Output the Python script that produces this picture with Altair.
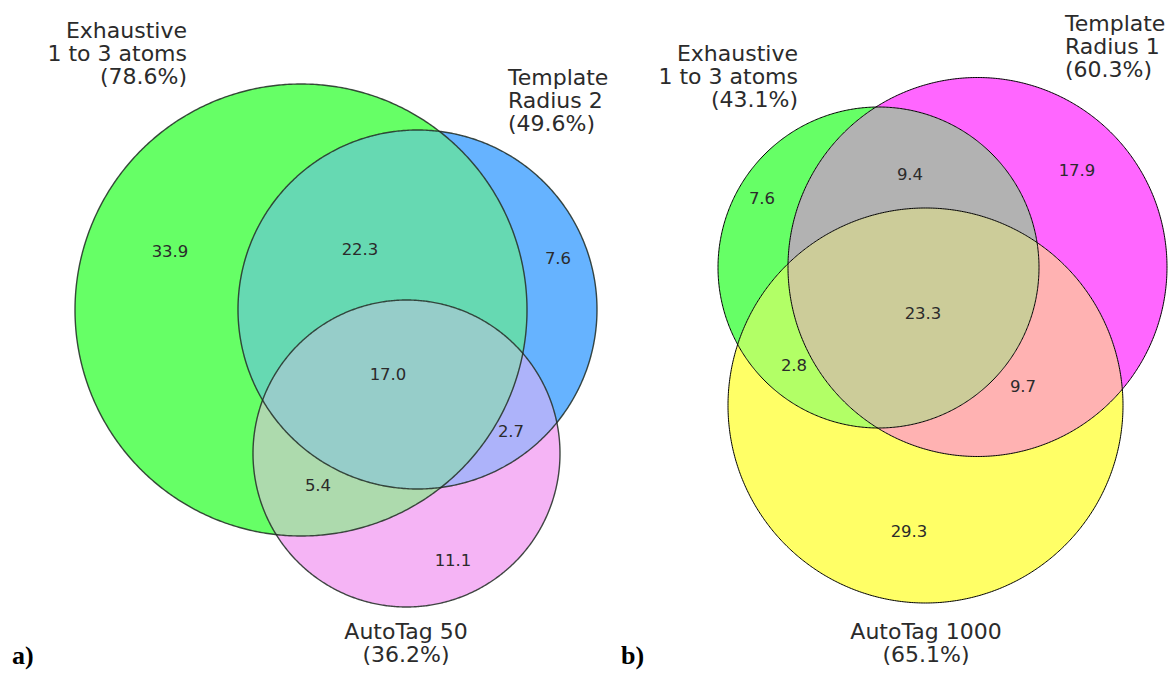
import numpy as np
import pandas as pd
import altair as alt

# ---- data ----
# circle geometry: centre x, centre y, radius (picture units)
panel_a_names = ["Exhaustive\n1 to 3 atoms\n(78.6%)", "Template\nRadius 2\n(49.6%)", "AutoTag 50\n(36.2%)"]
panel_a_circles = [(301, 310, 226), (417.5, 309.5, 179.5), (406.5, 453.5, 153.5)]
panel_a_base = [(0, 255, 0), (0, 128, 255), (238, 130, 238)]
panel_b_names = ["Exhaustive\n1 to 3 atoms\n(43.1%)", "Template\nRadius 1\n(60.3%)", "AutoTag 1000\n(65.1%)"]
panel_b_circles = [(878.5, 267.5, 160.5), (977.5, 267, 189.5), (925.5, 405.5, 197.5)]
panel_b_base = [(0, 255, 0), (255, 0, 255), (255, 255, 0)]

region_keys = ["100", "010", "001", "110", "101", "011", "111"]
panel_a_values = ["33.9", "7.6", "11.1", "22.3", "5.4", "2.7", "17.0"]
panel_a_value_x = [170, 558, 453, 360, 318, 511, 388]
panel_a_value_y = [252, 259, 561, 250, 486, 432, 375]
panel_b_values = ["7.6", "17.9", "29.3", "9.4", "2.8", "9.7", "23.3"]
panel_b_value_x = [762, 1077, 909, 910, 794, 1023, 923]
panel_b_value_y = [199, 171, 532, 175, 366, 387, 314]

# set-label anchors (first line) and alignment
panel_a_label_x = [187, 508, 406]
panel_a_label_y = [31, 78, 632]
panel_b_label_x = [798, 1065, 926]
panel_b_label_y = [54, 24, 632]
label_align = ["right", "left", "center"]

panel_tags = ["a)", "b)"]
panel_tag_x = [12, 621]
panel_tag_y = [656, 656]

ALPHA = 0.6


def region_polygon(circles, member, n=2400):
    arcs = []
    th = np.linspace(0, 2 * np.pi, n, endpoint=False)
    for i, (cx, cy, r) in enumerate(circles):
        px = cx + r * np.cos(th)
        py = cy + r * np.sin(th)
        ok = np.ones(n, bool)
        for j, (qx, qy, qr) in enumerate(circles):
            if j == i:
                continue
            ok &= (((px - qx) ** 2 + (py - qy) ** 2) < qr ** 2) == bool(member[j])
        if not ok.any():
            continue
        if ok.all():
            pts = list(zip(px, py))
            arcs.append(pts if member[i] else pts[::-1])
            continue
        start = int(np.argmin(ok))
        order = np.roll(np.arange(n), -start)
        run = []
        for k in order:
            if ok[k]:
                run.append((px[k], py[k]))
            elif run:
                arcs.append(run if member[i] else run[::-1])
                run = []
        if run:
            arcs.append(run if member[i] else run[::-1])
    poly = list(arcs.pop(0))
    while arcs:
        ex, ey = poly[-1]
        k = min(range(len(arcs)), key=lambda a: (arcs[a][0][0] - ex) ** 2 + (arcs[a][0][1] - ey) ** 2)
        poly += arcs.pop(k)
    return poly


def mix(base, member):
    cols = [base[i] for i in range(3) if member[i]]
    avg = np.mean(cols, axis=0)
    c = ALPHA * avg + (1 - ALPHA) * 255
    return "#%02x%02x%02x" % tuple(int(round(v)) for v in c)


rows = []
outline_rows = []
text_rows = []
for pname, circles, base, vals, vx, vy, names, lx, ly in [
    ("a", panel_a_circles, panel_a_base, panel_a_values, panel_a_value_x, panel_a_value_y,
     panel_a_names, panel_a_label_x, panel_a_label_y),
    ("b", panel_b_circles, panel_b_base, panel_b_values, panel_b_value_x, panel_b_value_y,
     panel_b_names, panel_b_label_x, panel_b_label_y),
]:
    for key in region_keys:
        member = [int(c) for c in key]
        poly = region_polygon(circles, member)
        col = mix(base, member)
        for idx, (x, y) in enumerate(poly):
            rows.append({"region": pname + key, "idx": idx, "x": x, "y": y, "color": col})
    th = np.linspace(0, 2 * np.pi, 721)
    for ci, (cx, cy, r) in enumerate(circles):
        for idx, t in enumerate(th):
            outline_rows.append({"circle": pname + str(ci), "panel": pname, "idx": idx,
                                 "x": cx + r * np.cos(t), "y": cy + r * np.sin(t)})
    for v, x, y in zip(vals, vx, vy):
        text_rows.append({"kind": "value", "text": v, "x": x, "y": y, "align": "center"})
    for n_, x, y, a in zip(names, lx, ly, label_align):
        text_rows.append({"kind": "label", "text": n_, "x": x, "y": y, "align": a})

regions = pd.DataFrame(rows)
outlines = pd.DataFrame(outline_rows)
texts = pd.DataFrame(text_rows)
tags = pd.DataFrame({"text": panel_tags, "x": panel_tag_x, "y": panel_tag_y})

W, H = 1160, 662
xs = alt.Scale(domain=[8, 8 + W])
ys = alt.Scale(domain=[8, 8 + H], reverse=True)
X = alt.X("x:Q", scale=xs, axis=None)
Y = alt.Y("y:Q", scale=ys, axis=None)

fills = alt.Chart(regions).mark_line(filled=True, strokeWidth=0, interpolate="linear").encode(
    x=X, y=Y, detail="region:N", order="idx:Q", color=alt.Color("color:N", scale=None)
)

edges_a = alt.Chart(outlines).transform_filter(alt.datum.panel == "a").mark_line(
    color="#1f2a22", strokeWidth=1.4, opacity=0.85
).encode(x=X, y=Y, detail="circle:N", order="idx:Q")
edges_b = alt.Chart(outlines).transform_filter(alt.datum.panel == "b").mark_line(
    color="#000000", strokeWidth=1.0
).encode(x=X, y=Y, detail="circle:N", order="idx:Q")

value_text = alt.Chart(texts).transform_filter(alt.datum.kind == "value").mark_text(
    font="DejaVu Sans", fontSize=16.5, color="#2b2b2b", align="center", baseline="middle"
).encode(x=X, y=Y, text="text:N")


def label_layer(a):
    return alt.Chart(texts).transform_filter(
        (alt.datum.kind == "label") & (alt.datum.align == a)
    ).mark_text(
        font="DejaVu Sans", fontSize=22, color="#2b2b2b", align=a, baseline="middle",
        lineBreak="\n", lineHeight=23
    ).encode(x=X, y=Y, text="text:N")


tag_text = alt.Chart(tags).mark_text(
    font="Liberation Serif", fontSize=26, fontWeight="bold", color="#000000",
    align="left", baseline="middle"
).encode(x=X, y=Y, text="text:N")

chart = alt.layer(
    fills, edges_a, edges_b, value_text,
    label_layer("right"), label_layer("left"), label_layer("center"), tag_text
).properties(
    width=W, height=H, autosize=alt.AutoSizeParams(type="none"), padding=0
).configure_view(stroke=None)

chart.save("out.html", embed_options={"renderer": "svg", "actions": False})
